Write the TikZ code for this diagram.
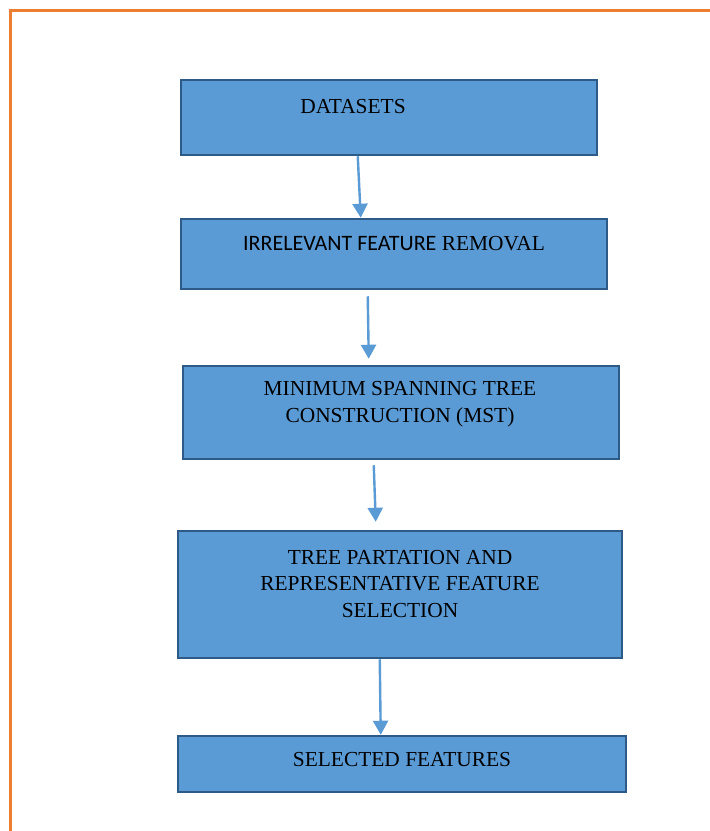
\documentclass[tikz,border=0pt]{standalone}
\usepackage{fontspec}
\setmainfont{Liberation Serif}
\newfontfamily\carl{Carlito}
\usetikzlibrary{arrows.meta,calc}
\definecolor{boxfill}{HTML}{5B9BD5}
\definecolor{boxline}{HTML}{2E5A88}
\definecolor{frameor}{HTML}{ED7D31}
\begin{document}
\begin{tikzpicture}[x=1pt,y=-1pt,
  box/.style={draw=boxline,fill=boxfill,line width=2.5pt,rectangle,inner sep=0pt},
  lbl/.style={font=\fontsize{21.4}{26.5}\selectfont,align=center,inner sep=0pt,text=black},
  arr/.style={draw=boxfill,line width=2.4pt,-{Triangle[width=15pt,length=14pt]}}]
\useasboundingbox (0,0) rectangle (710,831);
\fill[white] (0,0) rectangle (710,831);
\draw[frameor,line width=3pt] (10,831) -- (10,10) -- (710,10);
% boxes
\node[box,minimum width=416pt,minimum height=75pt] (b1) at (389,117.5) {};
\node[box,minimum width=426pt,minimum height=70pt] (b2) at (394,254) {};
\node[box,minimum width=436pt,minimum height=93pt] (b3) at (401,412.5) {};
\node[box,minimum width=444pt,minimum height=127pt] (b4) at (400,594.5) {};
\node[box,minimum width=448pt,minimum height=56pt] (b5) at (402,764) {};
% labels
\node[lbl] (t1) at (353,107) {DATASETS};
\node[lbl] (t2) at (394,244) {{\carl\fontsize{22}{26.5}\selectfont IRRELEVANT FEATURE} REMOVAL};
\node[lbl] (t3) at (400,404) {MINIMUM SPANNING TREE\\CONSTRUCTION (MST)};
\node[lbl] (t4) at (400,584) {TREE PARTATION AND\\REPRESENTATIVE FEATURE\\SELECTION};
\node[lbl] (t5) at (402,760) {SELECTED FEATURES};
% arrows
\draw[arr] ([xshift=178pt]b1.south west) -- ([xshift=181pt]b2.north west);
\draw[arr] ([xshift=188pt,yshift=-6pt]b2.south west) -- ([xshift=187pt,yshift=6pt]b3.north west);
\draw[arr] ([xshift=192pt,yshift=-5pt]b3.south west) -- ([xshift=199pt,yshift=8pt]b4.north west);
\draw[arr] ([xshift=203pt]b4.south west) -- ([xshift=204pt]b5.north west);
\end{tikzpicture}
\end{document}
